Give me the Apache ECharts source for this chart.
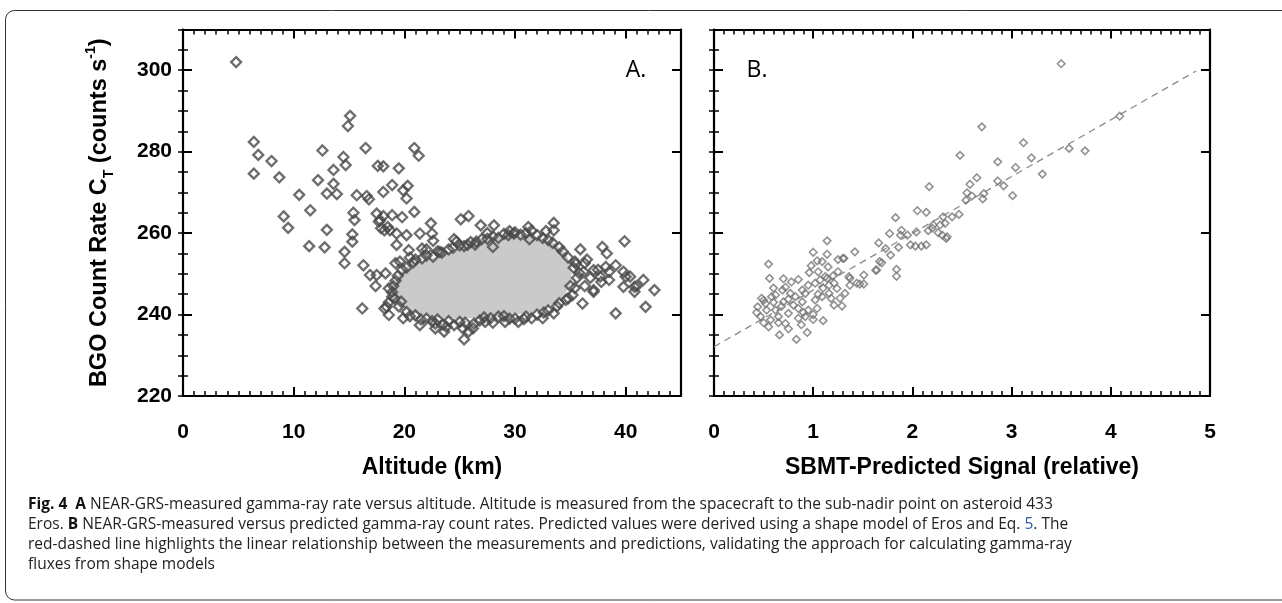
<!DOCTYPE html>
<html><head><meta charset="utf-8">
<script src="https://cdn.jsdelivr.net/npm/echarts@6/dist/echarts.min.js"></script>
<style>html,body{margin:0;padding:0;background:#fff;}#c{width:1282px;height:603px;}</style>
</head><body><div id="c"></div>
<script>
// ---------- DATA ----------
// Panel A: altitude (km) vs BGO count rate (counts/s) - individual diamonds
const scatterA = [
[4.8,302],[6.4,282.4],[6.8,279.2],[8.0,277.7],[6.4,274.6],[8.7,273.7],[10.5,269.4],[11.5,265.6],[9.1,264.1],[9.5,261.3],
[11.4,256.8],[12.8,256.5],[12.6,280.3],[12.2,273],[13.0,269.7],[13.6,275.5],[13.9,269.6],[13.6,272.1],[14.5,278.7],[14.7,276.7],
[15.1,288.8],[14.9,286.3],[13.0,260.8],[14.6,255.4],[14.6,252.6],[15.3,259.7],[15.3,257.9],[15.4,265],[15.5,263.2],[15.7,269.3],
[16.5,280.9],[16.6,269.1],[16.8,268.3],[16.3,252.1],[16.9,249.7],[17.4,247],[17.6,276.5],[18.1,276.4],[18.1,270.1],[18.9,271.8],
[19.5,275.9],[19.9,270.5],[20.3,271.6],[20.2,268.5],[20.9,280.9],[21.3,279],[17.5,264.8],[17.8,263.2],[18.1,264.2],[18.2,260.7],
[18.5,261.5],[18.9,264.4],[19.8,263.9],[20.9,265.2],[17.7,262.8],[17.9,261.2],[18.7,260.7],[19.3,259.9],[20.2,259.5],[21.4,259.9],
[21.6,256.2],[22.4,262.4],[22.6,258.1],[22.5,259.9],[23.2,255.4],[19.3,257.1],[20.4,255.8],[19.6,253],[19.2,252.6],[18.3,250.1],
[17.5,249.7],[18.6,246.4],[18.9,244.4],[18.4,241.9],[18.6,239.9],[16.2,241.5],[18.2,241.5],[19.9,239.1],[21.4,237.4],[22.8,236.6],
[22.8,237.8],[23.6,235.8],[23.8,237],[25.4,233.9],[25.3,236.6],[25.8,235.8],[26.2,236.6],[27.3,238.2],[27.8,239.1],[29.1,238.2],
[30.3,238.2],[31.5,239.1],[32.5,239.1],[33.5,240.3],[36.1,242.7],[37.1,246],[39.1,240.3],[41.8,241.9],[42.6,246],[40.8,246.8],
[40.0,249.3],[39.1,252.1],[25.1,263.4],[25.8,264.2],[26.9,261.9],[28.1,261.9],[33.5,262.5],[33.5,260.7],[29.9,259.9],[31.3,258.5],
[35.9,256],[37.9,256.6],[39.9,258],[38.3,255],[40.4,249.3],[41.6,248.5],[41.0,247],[40.8,245.6],[39.8,246.8],[37.1,245.6],
[24.7,257.9],[26.5,257.9],[28.0,256.6],[29.4,259.5],[25.7,257.1],[36.3,252.6],[37.1,250.9],[37.7,249.3],[38.2,251.7],[39.8,250.5],
[38.5,248.5],[21,253.5],[22,254.5],[23,255.5],[24,256],[25,257],[26,257.8],[27,258.5],[28,259.2],[29,259.8],
[30,260.2],[31,260],[32,259.5],[33,258.3],[34,256.5],[34.8,254],[35.3,251.5],[35.6,249],[35.4,246.5],[34.8,244],
[33.8,242],[32.6,240.5],[31,239.5],[29.5,239],[28.5,239.5],[26.8,238.5],[25,238.2],[24,238.4],[23,238.8],[22,239],
[21,239.8],[20.2,240.6],[19.5,242],[19.1,244],[19,247],[19.4,249.5],[20.2,251.5],[35.5,252.5],[36.2,250.5],[36.8,249],
[37.5,251],[36.5,253.5],[38.5,250.5],[37.8,248],[36.3,247],
[19.8,251],[20.8,252.8],[21.6,253.8],[22.6,254.2],[23.4,255.2],[24.4,256.4],[25.4,256.8],[26.4,257.2],[27.5,258.6],[28.5,258.8],
[29.5,260.5],[30.5,259.6],[31.5,260.6],[32.5,258.8],[33.4,257.6],[34.3,255.5],[20.5,254],[22,256],[24.5,258.5],[27.5,260],
[31.2,261.5],[32.8,260.5],[20.5,239.6],[21.5,238.8],[22.5,238.4],[23.5,237.6],[24.5,237.4],[25.5,238],[26.3,237.8],[27.2,239.3],
[28,238],[29,239.6],[30,239],[30.8,238.9],[32,240],[33,241],[34,242.8],[34.6,243.6],[18.9,245.5],[19.2,248.3],
[19.7,243.2],[18.6,243],[35,247],[35.4,253],[35.8,250.2],[35.2,244.8]
];
// Panel A: outline of the dense light-grey cloud of overlapping points
const cloudA = [
[19.0,246],[19.5,250],[20.5,252.5],[22.2,253.5],[23.8,255],[25.5,256.5],[27.0,258],[28.5,259],[30,259.8],[32,259],
[33.5,257.5],[34.6,255],[35.1,251.5],[35.1,248],[34.5,245],[33.2,242],[31.5,240.5],[29.5,239.8],[27,239.2],[25,239],
[23,239.3],[21,240.3],[19.6,242.3]
];
// Panel B: SBMT-predicted signal vs measured count rate
const scatterB = [
[0.55,252.4],[0.56,248.9],[1.14,258.1],[1.0,255.3],[1.14,254.8],[1.25,253.5],[1.31,253.8],[1.42,255.4],[1.04,253.2],[1.09,253],
[0.96,250.3],[1.15,251.7],[0.85,248.6],[0.72,246.7],[1.29,242.1],[1.10,238.5],[0.94,235.6],[0.83,233.9],[0.66,235],[0.55,237],
[0.47,239.5],[0.44,241.9],[0.48,244],[0.58,244.4],[0.70,243.1],[0.80,242.3],[0.89,243.1],[0.95,241.1],[1.04,241.5],[1.21,242.3],
[1.24,246.4],[1.32,245.2],[1.37,247.2],[1.44,247.7],[1.51,249.7],[1.51,247.5],[1.36,249.3],[1.64,250.9],[1.69,252.7],[1.66,257.6],
[1.73,256.2],[1.78,254.6],[1.86,256.5],[1.84,251.1],[1.84,249.4],[1.83,263.8],[1.88,259.5],[0.52,242.7],[0.62,241.1],[0.65,239.5],
[0.75,240.3],[0.82,244.4],[0.89,246],[0.95,247.2],[1.02,247.7],[1.07,248.5],[1.12,249.3],[1.16,247.2],[1.09,244.4],[1.02,243.6],
[0.92,245.2],[0.77,245.2],[0.69,246],[0.62,244.8],[0.53,241.1],[0.57,238.7],[0.72,237.8],[0.85,239.1],[0.92,239.5],[1.16,245.2],
[1.21,247.7],[1.14,248.9],[3.50,301.6],[2.70,286.1],[2.48,279.1],[3.12,282.2],[2.86,277.5],[3.20,278.5],[3.04,276.1],[3.31,274.5],
[3.58,280.8],[3.74,280.2],[2.65,273.6],[2.58,272],[2.86,272.8],[2.92,271.6],[3.01,269.2],[2.72,269.7],[2.71,268.4],[2.60,269.1],
[2.55,269.9],[2.54,268.1],[2.17,271.4],[2.05,265.5],[2.14,265.1],[2.47,264.6],[2.40,264],[2.31,264],[2.33,262.4],[2.21,262],
[2.16,260.6],[2.04,260.3],[1.89,260.7],[1.95,259.5],[2.26,260.1],[2.35,259.1],[4.09,288.7],[1.77,259.9],[1.98,257.1],[2.03,256.8],
[2.09,256.8],[2.14,257.1],[2.20,261.2],[2.28,262],[2.30,259.5],[2.34,258.7],[1.67,253],[1.63,250.9],[1.37,248.9],[1.47,247.5],
[1.30,253.8],[0.5,243.5],[0.6,243],[0.68,242],[0.75,243.8],[0.85,241.5],[0.9,240.5],[1.0,240],[1.05,245],[1.1,246.5],
[1.2,249.5],[1.25,250.5],[1.05,250.5],[0.98,252],[0.78,248],[0.7,248.8],[0.6,246.5],[0.65,238],[0.75,236.5],[1.18,244],
[1.27,244],[0.43,240.5],[0.5,238],[0.88,237.5],[1.0,238.8]
];
// Panel B: linear fit (dashed)
const fitB = [[0, 232.1], [4.86, 299.8]];
// Axis ranges / ticks
const rateRange = [220, 310], rateMajor = 20, rateMinor = 5;
const altRange = [0, 45], altMajor = 10, altMinor = 1;
const sigRange = [0, 5], sigMajor = 1, sigMinor = 0.1;

// ---------- CHART ----------
const FONT = 'Liberation Sans, Arial, sans-serif';
const gridA = {left:183, top:29.5, width:498, height:366.5};
const gridB = {left:714, top:29.5, width:496, height:366.5};

function fmt(major){ return v => (Math.abs(v/major - Math.round(v/major)) < 1e-6 ? String(Math.round(v*1000)/1000) : ''); }

function axisPair(gi, pos, range, major, minor, showLabels, extra, dir){
  const majorAx = Object.assign({
    type:'value', gridIndex:gi, position:pos, min:range[0], max:range[1], interval:major,
    axisLine:{show:true, onZero:false, lineStyle:{color:'#000', width:2.2}},
    axisTick:{show:true, inside:true, length:9, lineStyle:{color:'#000', width:2}},
    axisLabel:{show:showLabels, formatter:fmt(major), color:'#000', fontFamily:FONT, fontWeight:'bold', fontSize:21,
               margin: dir==='x' ? 26 : 11},
    splitLine:{show:false}
  }, extra||{});
  const minorAx = {
    type:'value', gridIndex:gi, position:pos, min:range[0], max:range[1], interval:minor,
    axisLine:{show:false}, axisTick:{show:true, inside:true, length:5, lineStyle:{color:'#000', width:1.5}},
    axisLabel:{show:false}, splitLine:{show:false}
  };
  return [majorAx, minorAx];
}
const titleStyle = {fontSize:23, fontWeight:'bold', color:'#000', fontFamily:FONT};
const xAxes = [].concat(
  axisPair(0,'bottom',altRange,altMajor,altMinor,true,{name:'Altitude (km)', nameLocation:'middle', nameGap:60, nameTextStyle:titleStyle}, 'x'),
  axisPair(0,'top',altRange,altMajor,altMinor,false,null,'x'),
  axisPair(1,'bottom',sigRange,sigMajor,sigMinor,true,{name:'SBMT-Predicted Signal (relative)', nameLocation:'middle', nameGap:60, nameTextStyle:titleStyle}, 'x'),
  axisPair(1,'top',sigRange,sigMajor,sigMinor,false,null,'x')
);
const yAxes = [].concat(
  axisPair(0,'left',rateRange,rateMajor,rateMinor,true,{
    name:'{a|BGO Count Rate C}{s|T}{a| (counts s}{p|-1}{a|)}', nameLocation:'middle', nameRotate:90, nameGap:67,
    nameTextStyle:{rich:{
      a:{fontSize:23.5, fontWeight:'bold', color:'#000', fontFamily:FONT, lineHeight:32},
      s:{fontSize:14, fontWeight:'bold', color:'#000', fontFamily:FONT, lineHeight:14, verticalAlign:'bottom'},
      p:{fontSize:14, fontWeight:'bold', color:'#000', fontFamily:FONT, lineHeight:14, verticalAlign:'top'}
    }}}, 'y'),
  axisPair(0,'right',rateRange,rateMajor,rateMinor,false,null,'y'),
  axisPair(1,'left',rateRange,rateMajor,rateMinor,false,null,'y'),
  axisPair(1,'right',rateRange,rateMajor,rateMinor,false,null,'y')
);

const captionLines = [
 '{b|Fig. 4}  {b|A} NEAR-GRS-measured gamma-ray rate versus altitude. Altitude is measured from the spacecraft to the sub-nadir point on asteroid 433',
 'Eros. {b|B} NEAR-GRS-measured versus predicted gamma-ray count rates. Predicted values were derived using a shape model of Eros and Eq. {l|5}. The',
 'red-dashed line highlights the linear relationship between the measurements and predictions, validating the approach for calculating gamma-ray',
 'fluxes from shape models'
];
const capY = [505, 525, 545, 565];
const capFont = {fontFamily:'Open Sans', fontSize:15.5};
const graphics = [
  {type:'rect', shape:{x:5.5, y:10.5, width:1400, height:589.5, r:9}, style:{fill:'none', stroke:'#333', lineWidth:1}, silent:true},
  {type:'text', x:636, y:70, style:{text:'A.', font:'23px "Open Sans"', fill:'#000', align:'center', verticalAlign:'middle'}},
  {type:'text', x:757, y:70, style:{text:'B.', font:'23px "Open Sans"', fill:'#000', align:'center', verticalAlign:'middle'}}
].concat(captionLines.map((t,i)=>({
  type:'text', x:28, y:capY[i], style:{text:t, fill:'#222', fontFamily:capFont.fontFamily, fontSize:capFont.fontSize,
    verticalAlign:'middle', align:'left',
    rich:{b:{fontWeight:'bold', fill:'#111', fontFamily:capFont.fontFamily, fontSize:capFont.fontSize},
          l:{fill:'#2a5db0', fontFamily:capFont.fontFamily, fontSize:capFont.fontSize}}}
})));

const chart = echarts.init(document.getElementById('c'), null, {renderer:'canvas'});
chart.setOption({
  animation:false,
  backgroundColor:'#fff',
  grid:[Object.assign({outerBoundsMode:'none', containLabel:false}, gridA), Object.assign({outerBoundsMode:'none', containLabel:false}, gridB)],
  xAxis:xAxes,
  yAxis:yAxes,
  graphic:graphics,
  series:[
    {type:'custom', xAxisIndex:0, yAxisIndex:0, data:[0], silent:true, z:1,
     renderItem:(params, api)=>({type:'polygon', shape:{points:cloudA.map(p=>api.coord(p))}, style:{fill:'#cacaca'}})},
    {type:'scatter', xAxisIndex:0, yAxisIndex:0, data:scatterA, symbol:'diamond', symbolSize:10, z:3,
     itemStyle:{color:'rgba(255,255,255,0)', borderColor:'#484848', borderWidth:2.3}},
    {type:'line', xAxisIndex:4, yAxisIndex:4, data:fitB, symbol:'none', z:2,
     lineStyle:{color:'#8a8a8a', width:1.3, type:[7,5]}},
    {type:'scatter', xAxisIndex:4, yAxisIndex:4, data:scatterB, symbol:'diamond', symbolSize:7.5, z:3,
     itemStyle:{color:'rgba(255,255,255,0)', borderColor:'#777', borderWidth:1.6}}
  ]
});
</script>
</body></html>
